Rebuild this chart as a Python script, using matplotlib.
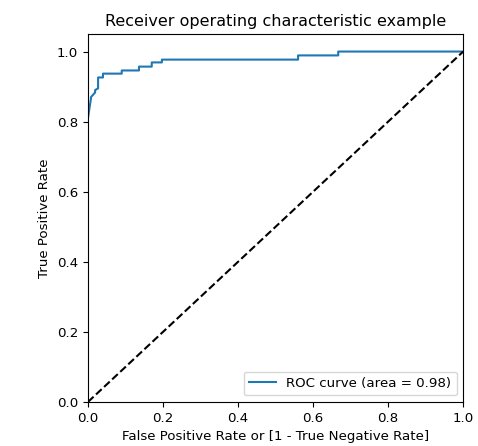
import matplotlib
matplotlib.use('Agg')
import matplotlib.pyplot as plt

# ROC curve points
fpr = [0.0, 0.0, 0.008, 0.008, 0.019, 0.019, 0.027, 0.027, 0.04, 0.04,
       0.09, 0.09, 0.136, 0.136, 0.17, 0.17, 0.197, 0.197, 0.56, 0.56,
       0.667, 0.667, 1.0]
tpr = [0.0, 0.81, 0.866, 0.87, 0.883, 0.89, 0.895, 0.926, 0.926, 0.937,
       0.937, 0.946, 0.946, 0.957, 0.957, 0.969, 0.969, 0.977, 0.977, 0.989,
       0.989, 1.0, 1.0]
auc_score = 0.98

plt.rcParams['font.size'] = 9.6

fig = plt.figure(figsize=(4.78, 4.46), dpi=100)
ax = fig.add_axes([0.184, 0.0987, 0.785, 0.825])
ax.plot(fpr, tpr, label='ROC curve (area = %0.2f)' % auc_score)
ax.plot([0, 1], [0, 1], 'k--')
ax.set_xlim([0.0, 1.0])
ax.set_ylim([0.0, 1.05])
ax.set_xlabel('False Positive Rate or [1 - True Negative Rate]')
ax.set_ylabel('True Positive Rate')
ax.set_title('Receiver operating characteristic example')
ax.legend(loc='lower right')

fig.savefig('out.png', dpi=100)
